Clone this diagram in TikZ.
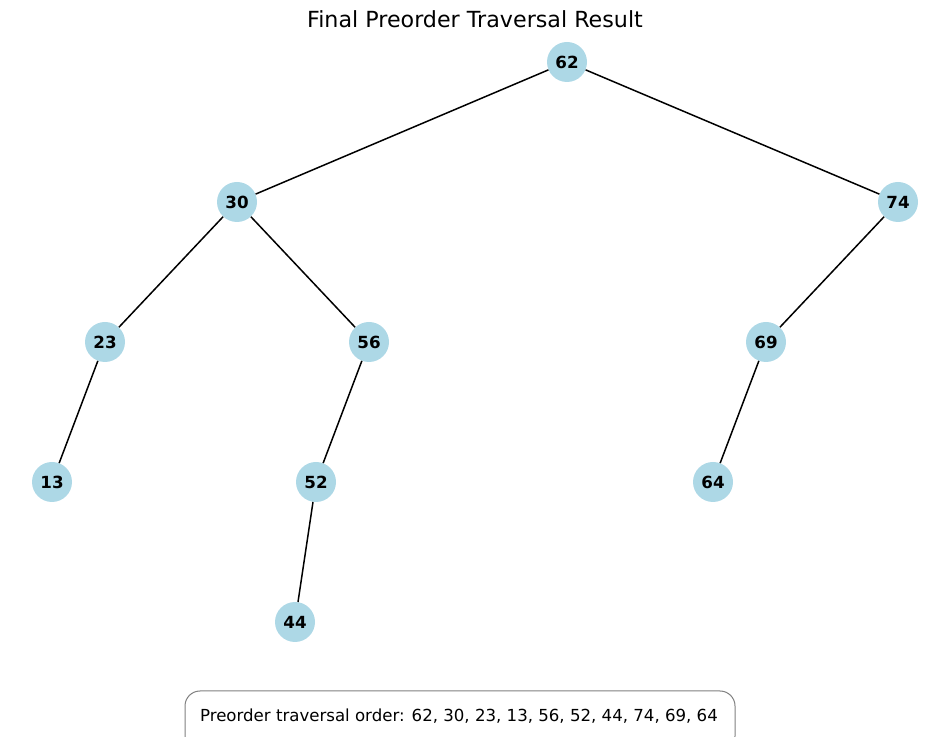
\documentclass[tikz,border=0pt]{standalone}
\usepackage{fontspec}
\setmainfont{DejaVu Sans}
\begin{document}
\begin{tikzpicture}[x=1pt,y=1pt,
  tnode/.style={circle,fill={rgb,255:red,173;green,216;blue,230},minimum size=40pt,inner sep=0pt,font=\fontsize{16.7}{19}\selectfont\bfseries},
  edge/.style={black,line width=1.5pt}]
\useasboundingbox (0,0) rectangle (950,736);
\node[font=\fontsize{22.2}{26}\selectfont] (title) at (475,717) {Final Preorder Traversal Result};
\node[tnode] (n62) at (567,674) {62};
\node[tnode] (n30) at (237,534) {30};
\node[tnode] (n74) at (898,534) {74};
\node[tnode] (n23) at (105,394) {23};
\node[tnode] (n56) at (369,394) {56};
\node[tnode] (n69) at (766,394) {69};
\node[tnode] (n13) at (52,254) {13};
\node[tnode] (n52) at (316,254) {52};
\node[tnode] (n64) at (713,254) {64};
\node[tnode] (n44) at (295,114) {44};
\draw[edge] (n62) -- (n30);
\draw[edge] (n62) -- (n74);
\draw[edge] (n30) -- (n23);
\draw[edge] (n30) -- (n56);
\draw[edge] (n23) -- (n13);
\draw[edge] (n56) -- (n52);
\draw[edge] (n52) -- (n44);
\draw[edge] (n74) -- (n69);
\draw[edge] (n69) -- (n64);
\draw[draw=gray,line width=1pt,rounded corners=15pt] (185,-15) rectangle (735,45);
\node[font=\fontsize{16.6}{19}\selectfont] (order) at (459,20) {Preorder traversal order: 62, 30, 23, 13, 56, 52, 44, 74, 69, 64};
\end{tikzpicture}
\end{document}
